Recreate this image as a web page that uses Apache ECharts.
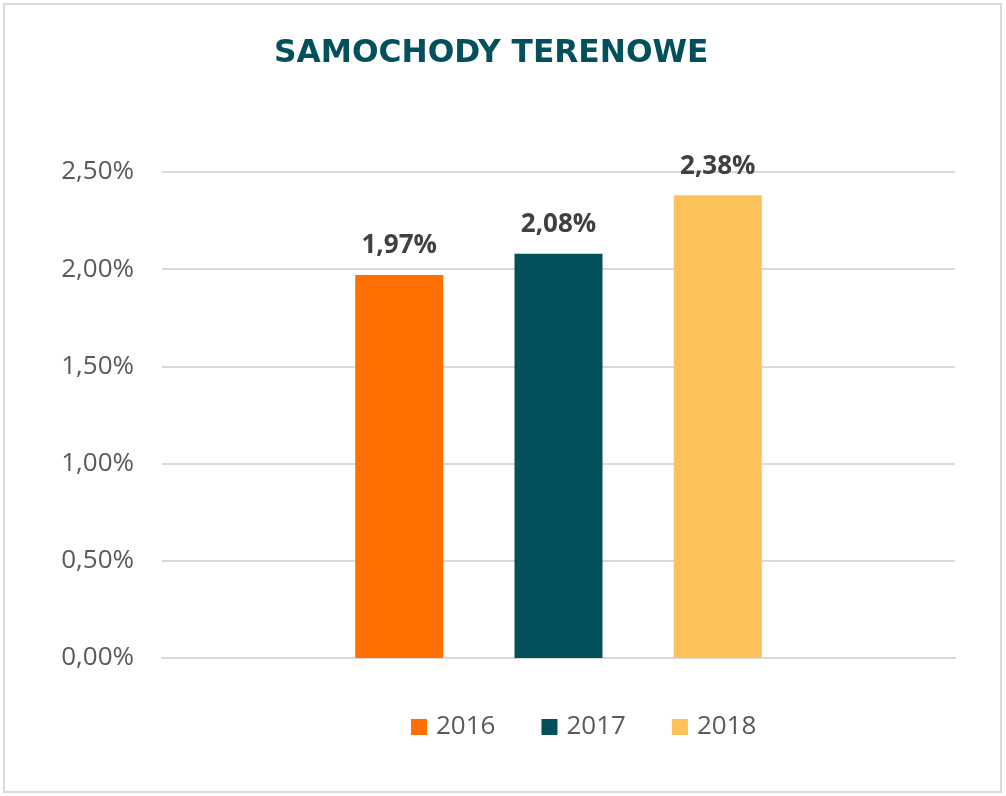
<!DOCTYPE html>
<html>
<head>
<meta charset="utf-8">
<script src="https://cdn.jsdelivr.net/npm/echarts@6/dist/echarts.min.js"></script>
<style>
  html, body { margin: 0; padding: 0; background: #fff; }
  #chart { width: 1006px; height: 796px; }
</style>
</head>
<body>
<div id="chart"></div>
<script>
// dane
var categories = ['Samochody terenowe'];
var years = ['2016', '2017', '2018'];
var values2016 = [1.97];
var values2017 = [2.08];
var values2018 = [2.38];
var colors = ['#FF7000', '#02505B', '#FDC25B'];

var chart = echarts.init(document.getElementById('chart'));

function pct(v) {
    return v.toFixed(2).replace('.', ',') + '%';
}

var seriesData = [values2016, values2017, values2018];
var series = years.map(function (year, i) {
    return {
        name: year,
        type: 'bar',
        data: seriesData[i],
        barWidth: 88,
        barGap: '81%',
        itemStyle: { color: colors[i] },
        label: {
            show: true,
            position: 'top',
            distance: 16,
            formatter: function (p) { return pct(p.value); },
            color: '#404040',
            fontFamily: 'Open Sans',
            fontWeight: 'bold',
            fontSize: 26
        }
    };
});

chart.setOption({
    animation: false,
    title: {
        text: 'SAMOCHODY TERENOWE',
        left: 269,
        top: 33,
        textStyle: {
            color: '#02505B',
            fontFamily: 'DejaVu Sans',
            fontWeight: 'bold',
            fontSize: 31.3
        }
    },
    graphic: [{
        type: 'rect',
        shape: { x: 4, y: 4, width: 997, height: 788 },
        style: { fill: 'none', stroke: '#D9D9D9', lineWidth: 2 },
        silent: true
    }],
    legend: {
        data: years,
        left: 406,
        top: 709,
        itemWidth: 16,
        itemHeight: 16,
        itemGap: 46,
        icon: 'rect',
        textStyle: {
            color: '#595959',
            fontFamily: 'Open Sans',
            fontSize: 26,
            padding: [0, 0, 0, 4]
        }
    },
    grid: {
        left: 162,
        right: 51,
        top: 172,
        bottom: 138
    },
    xAxis: {
        type: 'category',
        data: categories,
        axisLine: { lineStyle: { color: '#D9D9D9', width: 2 } },
        axisTick: { show: false },
        axisLabel: { show: false }
    },
    yAxis: {
        type: 'value',
        min: 0,
        max: 2.5,
        interval: 0.5,
        axisLine: { show: false },
        axisTick: { show: false },
        splitLine: { lineStyle: { color: '#D9D9D9', width: 2 } },
        axisLabel: {
            formatter: pct,
            margin: 28,
            color: '#595959',
            fontFamily: 'Open Sans',
            fontSize: 26
        }
    },
    series: series
});
</script>
</body>
</html>
